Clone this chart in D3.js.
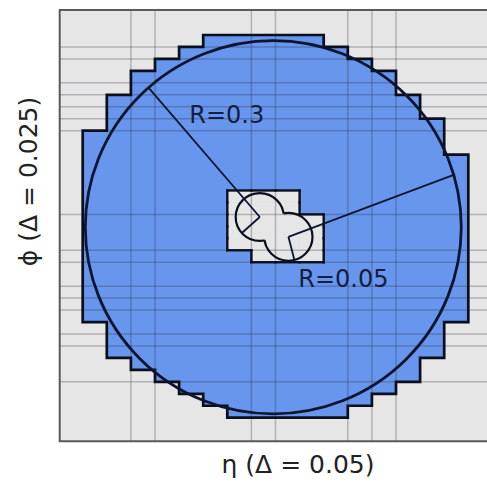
<!DOCTYPE html>
<html>
<head>
<meta charset="utf-8">
<script src="https://cdn.jsdelivr.net/npm/d3@7"></script>
<style>
  html, body { margin: 0; padding: 0; background: #fff; }
  svg { display: block; }
</style>
</head>
<body>
<svg id="chart" width="487" height="483"></svg>
<script>
// Calorimeter cell size in η and φ
const dEta = 0.05, dPhi = 0.025;

// Blue (cone) region: first η-column and last+1 η-column for each φ-row, top row first
const rowStart = [5, 4, 3, 2, 2, 1, 1, 1,
                  0, 0, 0, 0, 0, 0, 0, 0, 0, 0, 0, 0, 0, 0, 0, 0,
                  1, 1, 1, 2, 3, 4, 5, 6];
const rowEnd   = [10, 11, 12, 13, 13, 14, 14, 15, 15, 15,
                  16, 16, 16, 16, 16, 16, 16, 16, 16, 16, 16, 16, 16, 16,
                  15, 15, 15, 14, 14, 13, 12, 11];

// Core cell blocks around the two jets: column span and row span of each block
const coreCols = [[6, 9], [7, 10]];
const coreRows = [[13, 18], [15, 19]];

// Cell boundaries drawn as grid lines
const gridCols = [2, 3, 7, 8, 11, 12, 13];
const gridRows = [1, 2, 4, 5, 6, 7, 8, 15, 18, 19, 21, 22, 23, 25, 26, 29];

// Large cone
const coneEta = 0.3954, conePhi = 0.3982, coneR = 0.39;

// Jets
const jetEta = [0.3674, 0.4268];
const jetPhi = [0.4195, 0.3781];
const jetR = 0.05;

// Radius lines from each jet centre (degrees, counter-clockwise from +η)
const longAngle  = [130.5, 20.7];   // out to the cone boundary
const shortAngle = [221.9, 284.4];  // out to the jet boundary

const radiusLabels = ["R=0.3", "R=0.05"];
const xTitle = "η (Δ = 0.05)";
const yTitle = "ϕ (Δ = 0.025)";

// ---------------------------------------------------------------------------
const nRows = rowStart.length;
const nCols = d3.max(rowEnd);
const phiTop = nRows * dPhi;

const x = d3.scaleLinear().domain([0, nCols * dEta]).range([82.7, 468.3]);
const y = d3.scaleLinear().domain([0, phiTop]).range([417.7, 35]);

const colX = c => x(c * dEta);
const rowY = r => y(phiTop - r * dPhi);

const svg = d3.select("#chart");

// plot frame extents
const frame = { left: 59.7, top: 10, right: 540, bottom: 441.3 };

svg.append("rect")
  .attr("x", frame.left).attr("y", frame.top)
  .attr("width", frame.right - frame.left).attr("height", frame.bottom - frame.top)
  .attr("fill", "#e6e6e6");

// cone region as a staircase polygon
const pts = [];
for (let i = 0; i < nRows; i++) { pts.push([rowEnd[i], i], [rowEnd[i], i + 1]); }
for (let i = nRows - 1; i >= 0; i--) { pts.push([rowStart[i], i + 1], [rowStart[i], i]); }
const polyPath = d3.line().x(p => colX(p[0])).y(p => rowY(p[1]))(pts) + "Z";

svg.append("path").attr("d", polyPath).attr("fill", "#6796ec");

// core cells (union of the two blocks)
const coreSet = new Set();
coreCols.forEach((cs, b) => {
  for (let c = cs[0]; c < cs[1]; c++)
    for (let r = coreRows[b][0]; r < coreRows[b][1]; r++) coreSet.add(c + "," + r);
});
const coreCells = [...coreSet].map(s => s.split(",").map(Number));

svg.append("g").selectAll("rect").data(coreCells).join("rect")
  .attr("x", d => colX(d[0]) - 0.3).attr("y", d => rowY(d[1]) - 0.3)
  .attr("width", d => colX(d[0] + 1) - colX(d[0]) + 0.6)
  .attr("height", d => rowY(d[1] + 1) - rowY(d[1]) + 0.6)
  .attr("fill", "#e6e6e6");

// grid lines
const grid = svg.append("g").attr("stroke", "#2a2a3a").attr("stroke-opacity", 0.28).attr("stroke-width", 1.5);
grid.selectAll("line.v").data(gridCols).join("line").attr("class", "v")
  .attr("x1", colX).attr("x2", colX)
  .attr("y1", frame.top).attr("y2", frame.bottom);
grid.selectAll("line.h").data(gridRows).join("line").attr("class", "h")
  .attr("x1", frame.left).attr("x2", frame.right)
  .attr("y1", rowY).attr("y2", rowY);

// cone region outline
svg.append("path").attr("d", polyPath)
  .attr("fill", "none").attr("stroke", "#0b0f1c").attr("stroke-width", 2.7)
  .attr("stroke-linejoin", "miter");

// core outline: cell edges that do not border another core cell
const edges = [];
coreCells.forEach(([c, r]) => {
  if (!coreSet.has(c + "," + (r - 1))) edges.push([c, r, c + 1, r]);
  if (!coreSet.has(c + "," + (r + 1))) edges.push([c, r + 1, c + 1, r + 1]);
  if (!coreSet.has((c - 1) + "," + r)) edges.push([c, r, c, r + 1]);
  if (!coreSet.has((c + 1) + "," + r)) edges.push([c + 1, r, c + 1, r + 1]);
});
svg.append("g").selectAll("line").data(edges).join("line")
  .attr("x1", d => colX(d[0])).attr("y1", d => rowY(d[1]))
  .attr("x2", d => colX(d[2])).attr("y2", d => rowY(d[3]))
  .attr("stroke", "#0b0f1c").attr("stroke-width", 2.4).attr("stroke-linecap", "square");

// large cone boundary
svg.append("ellipse")
  .attr("cx", x(coneEta)).attr("cy", y(conePhi))
  .attr("rx", x(coneR) - x(0)).attr("ry", y(0) - y(coneR))
  .attr("fill", "none").attr("stroke", "#0c1530").attr("stroke-width", 2.8);

// jets: outline of the union of the two discs
const defs = svg.append("defs");
jetEta.forEach((e, i) => {
  const m = defs.append("mask").attr("id", "jm" + i);
  m.append("rect").attr("x", 0).attr("y", 0).attr("width", 487).attr("height", 483).attr("fill", "#fff");
  jetEta.forEach((e2, k) => {
    if (k === i) return;
    m.append("ellipse")
      .attr("cx", x(e2)).attr("cy", y(jetPhi[k]))
      .attr("rx", x(jetR) - x(0)).attr("ry", y(0) - y(jetR))
      .attr("fill", "#000");
  });
});
svg.append("g").selectAll("ellipse").data(jetEta).join("ellipse")
  .attr("cx", d => x(d)).attr("cy", (d, i) => y(jetPhi[i]))
  .attr("rx", x(jetR) - x(0)).attr("ry", y(0) - y(jetR))
  .attr("mask", (d, i) => "url(#jm" + i + ")")
  .attr("fill", "none").attr("stroke", "#0b0f1c").attr("stroke-width", 2.2);

// radius lines
const rad = a => a * Math.PI / 180;
function coneHit(e0, p0, ang) {
  const ux = Math.cos(rad(ang)), uy = Math.sin(rad(ang));
  const dx = e0 - coneEta, dy = p0 - conePhi;
  const b = dx * ux + dy * uy;
  const c = dx * dx + dy * dy - coneR * coneR;
  const t = -b + Math.sqrt(b * b - c);
  return [e0 + t * ux, p0 + t * uy];
}
const segs = [];
jetEta.forEach((e, i) => {
  const p = jetPhi[i];
  segs.push([e, p, ...coneHit(e, p, longAngle[i])]);
  segs.push([e, p, e + jetR * Math.cos(rad(shortAngle[i])), p + jetR * Math.sin(rad(shortAngle[i]))]);
});
svg.append("g").selectAll("line").data(segs).join("line")
  .attr("x1", d => x(d[0])).attr("y1", d => y(d[1]))
  .attr("x2", d => x(d[2])).attr("y2", d => y(d[3]))
  .attr("stroke", "#0c1530").attr("stroke-width", 1.8);

// radius annotations
const labelAnchor = [[0.2212, 0.6154], [0.4473, 0.2738]];
svg.append("g").selectAll("text").data(radiusLabels).join("text")
  .attr("x", (d, i) => x(labelAnchor[i][0]))
  .attr("y", (d, i) => y(labelAnchor[i][1]))
  .attr("font-family", "DejaVu Sans, sans-serif").attr("font-size", 24)
  .attr("fill", "#142040")
  .text(d => d);

// plot frame
svg.append("path")
  .attr("d", `M${frame.right},${frame.top}H${frame.left}V${frame.bottom}H${frame.right}`)
  .attr("fill", "none").attr("stroke", "#5a5a5a").attr("stroke-width", 2);

// axis titles
svg.append("text")
  .attr("x", 298).attr("y", 473)
  .attr("text-anchor", "middle")
  .attr("font-family", "DejaVu Sans, sans-serif").attr("font-size", 25)
  .attr("fill", "#222")
  .text(xTitle);

svg.append("text")
  .attr("transform", "translate(37,181.5) rotate(-90)")
  .attr("text-anchor", "middle")
  .attr("font-family", "DejaVu Sans, sans-serif").attr("font-size", 25)
  .attr("fill", "#222")
  .text(yTitle);
</script>
</body>
</html>
